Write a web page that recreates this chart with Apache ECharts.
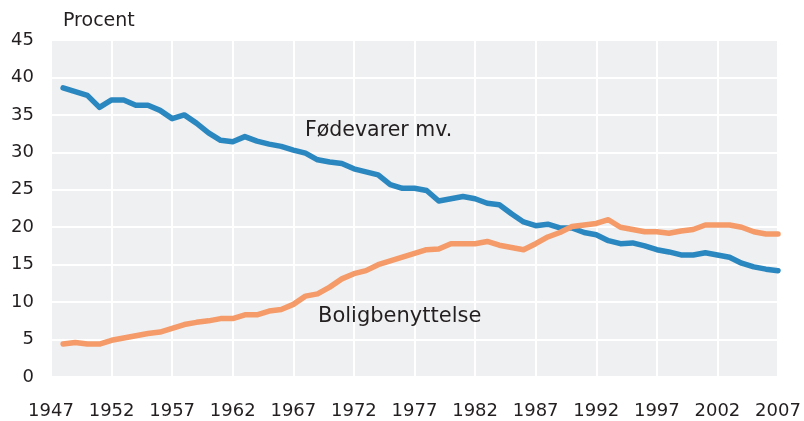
<!DOCTYPE html>
<html>
<head>
<meta charset="utf-8">
<script src="https://cdn.jsdelivr.net/npm/echarts@6/dist/echarts.min.js"></script>
<style>
  html, body { margin: 0; padding: 0; background: #fff; }
  #chart { width: 804px; height: 421px; }
</style>
</head>
<body>
<div id="chart"></div>
<script>
// years on the axis, 1947-2007; data starts 1948
var years = [];
for (var y = 1947; y <= 2007; y++) years.push(String(y));

var foedevarer = [null,
  38.6, 38.1, 37.6, 36.0, 37.0, 37.0, 36.3, 36.3, 35.6, 34.5,
  35.0, 33.9, 32.6, 31.6, 31.4, 32.1, 31.5, 31.1, 30.8, 30.3,
  29.9, 29.0, 28.7, 28.5, 27.8, 27.4, 27.0, 25.7, 25.2, 25.2,
  24.9, 23.5, 23.8, 24.1, 23.8, 23.2, 23.0, 21.8, 20.7, 20.2,
  20.4, 19.9, 19.9, 19.3, 19.0, 18.2, 17.8, 17.9, 17.5, 17.0,
  16.7, 16.3, 16.3, 16.6, 16.3, 16.0, 15.2, 14.7, 14.4, 14.2
];

var boligbenyttelse = [null,
  4.4, 4.6, 4.4, 4.4, 4.9, 5.2, 5.5, 5.8, 6.0, 6.5,
  7.0, 7.3, 7.5, 7.8, 7.8, 8.3, 8.3, 8.8, 9.0, 9.7,
  10.8, 11.1, 12.0, 13.1, 13.8, 14.2, 15.0, 15.5, 16.0, 16.5,
  17.0, 17.1, 17.8, 17.8, 17.8, 18.1, 17.6, 17.3, 17.0, 17.8,
  18.7, 19.3, 20.1, 20.3, 20.5, 21.0, 20.0, 19.7, 19.4, 19.4,
  19.2, 19.5, 19.7, 20.3, 20.3, 20.3, 20.0, 19.4, 19.1, 19.1
];

var chart = echarts.init(document.getElementById('chart'));
var font = '"DejaVu Sans", sans-serif';
var ink = '#231f20';

var option = {
  animation: false,
  grid: { left: 51, right: 26, top: 40, bottom: 44, show: true, backgroundColor: '#eff0f2', borderWidth: 0 },
  xAxis: {
    type: 'category',
    data: years,
    boundaryGap: false,
    axisLine: { show: false },
    axisTick: { show: false },
    axisLabel: { interval: 4, margin: 25, fontSize: 18, color: ink, fontFamily: font },
    splitLine: { show: true, interval: 4, lineStyle: { color: '#fff', width: 2 } }
  },
  yAxis: {
    type: 'value',
    min: 0, max: 45, interval: 5,
    axisLine: { show: false },
    axisTick: { show: false },
    axisLabel: { margin: 17, fontSize: 18, color: ink, fontFamily: font },
    splitLine: { lineStyle: { color: '#fff', width: 2 } }
  },
  series: [{
    name: 'Fødevarer mv.',
    type: 'line',
    data: foedevarer,
    showSymbol: false,
    lineStyle: { color: '#2b87bf', width: 5.5, cap: 'round', join: 'round' }
  }, {
    name: 'Boligbenyttelse',
    type: 'line',
    data: boligbenyttelse,
    showSymbol: false,
    lineStyle: { color: '#f49b69', width: 5.5, cap: 'round', join: 'round' }
  }],
  graphic: [
    { type: 'text', z: 100, left: 63, top: 12, style: { text: 'Procent', fontSize: 19, fill: ink, fontFamily: font } },
    { type: 'text', z: 100, left: 305, top: 120, style: { text: 'Fødevarer mv.', fontSize: 20.5, fill: ink, fontFamily: font } },
    { type: 'text', z: 100, left: 318, top: 306, style: { text: 'Boligbenyttelse', fontSize: 21, fill: ink, fontFamily: font } }
  ]
};
chart.setOption(option);
</script>
</body>
</html>
